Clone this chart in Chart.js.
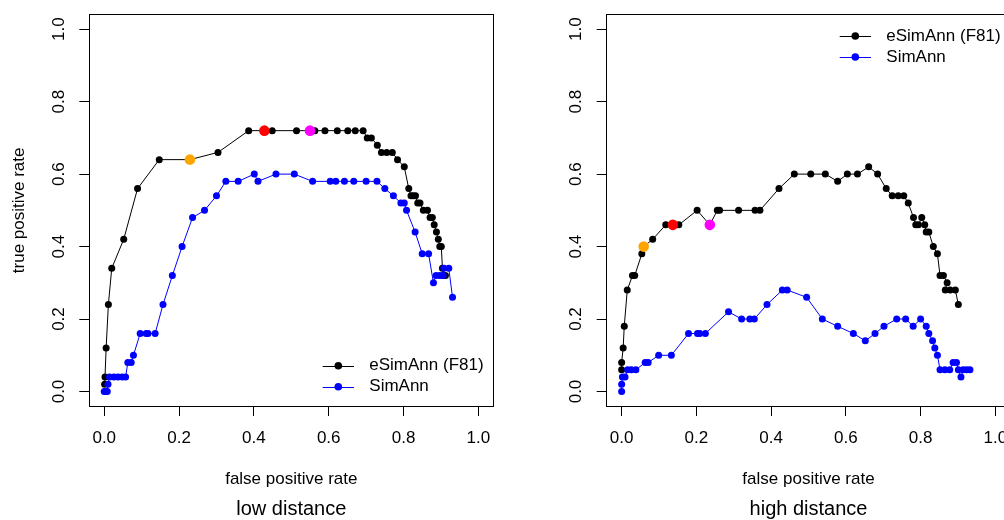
<!DOCTYPE html>
<html>
<head>
<meta charset="utf-8">
<script src="https://cdn.jsdelivr.net/npm/chart.js@4.4.1/dist/chart.umd.min.js"></script>
<style>
html, body { margin: 0; padding: 0; background: #fff; overflow: hidden; width: 1004px; height: 520px; }
#wrapL { position: absolute; left: 0; top: 0; width: 520px; height: 520px; }
#wrapR { position: absolute; left: 502px; top: 0; width: 502px; height: 520px; overflow: hidden; }
canvas { display: block; }
</style>
</head>
<body>
<div id="wrapL"><canvas id="cL" width="520" height="520"></canvas></div>
<div id="wrapR"><canvas id="cR" width="530" height="520"></canvas></div>
<script>
// ---------- data ----------
const SERIES_NAMES = ['eSimAnn (F81)', 'SimAnn'];
const TICK_VALUES = [0, 0.2, 0.4, 0.6, 0.8, 1.0];
const TICK_LABELS = ['0.0', '0.2', '0.4', '0.6', '0.8', '1.0'];
const X_TITLE = 'false positive rate';
const Y_TITLE = 'true positive rate';
const PANEL_TITLES = ['low distance', 'high distance'];

// low distance: eSimAnn (F81)
const lowE_x = [0.001, 0.002, 0.005, 0.011, 0.020, 0.052, 0.089, 0.147, 0.229, 0.304, 0.386, 0.428, 0.449, 0.514, 0.550, 0.563, 0.590, 0.623, 0.651, 0.671, 0.692, 0.703, 0.714, 0.730, 0.741, 0.755, 0.770, 0.784, 0.802, 0.814, 0.820, 0.826, 0.832, 0.838, 0.844, 0.853, 0.864, 0.871, 0.877, 0.882, 0.888, 0.893, 0.897, 0.901, 0.904, 0.907, 0.912];
const lowE_y = [0.02, 0.04, 0.12, 0.24, 0.34, 0.42, 0.56, 0.64, 0.64, 0.66, 0.72, 0.72, 0.72, 0.72, 0.72, 0.72, 0.72, 0.72, 0.72, 0.72, 0.72, 0.70, 0.70, 0.68, 0.66, 0.66, 0.66, 0.64, 0.62, 0.56, 0.54, 0.54, 0.54, 0.52, 0.52, 0.50, 0.50, 0.48, 0.48, 0.46, 0.44, 0.42, 0.40, 0.40, 0.34, 0.32, 0.32];
// low distance: SimAnn
const lowS_x = [0, 0.004, 0.008, 0.010, 0.014, 0.026, 0.037, 0.048, 0.057, 0.063, 0.072, 0.078, 0.096, 0.112, 0.117, 0.136, 0.157, 0.182, 0.208, 0.236, 0.268, 0.300, 0.325, 0.358, 0.401, 0.411, 0.459, 0.508, 0.557, 0.604, 0.619, 0.642, 0.667, 0.700, 0.729, 0.750, 0.773, 0.793, 0.802, 0.808, 0.831, 0.850, 0.867, 0.880, 0.887, 0.897, 0.906, 0.908, 0.921, 0.931];
const lowS_y = [0, 0, 0, 0.02, 0.04, 0.04, 0.04, 0.04, 0.04, 0.08, 0.08, 0.10, 0.16, 0.16, 0.16, 0.16, 0.24, 0.32, 0.40, 0.48, 0.50, 0.54, 0.58, 0.58, 0.60, 0.58, 0.60, 0.60, 0.58, 0.58, 0.58, 0.58, 0.58, 0.58, 0.58, 0.56, 0.54, 0.52, 0.52, 0.50, 0.44, 0.38, 0.38, 0.30, 0.32, 0.32, 0.32, 0.34, 0.34, 0.26];
// low distance: highlighted points
const lowH_x = [0.229, 0.428, 0.550];
const lowH_y = [0.64, 0.72, 0.72];

// high distance: eSimAnn (F81)
const highE_x = [0, 0, 0.004, 0.007, 0.015, 0.029, 0.035, 0.054, 0.059, 0.083, 0.118, 0.137, 0.153, 0.202, 0.236, 0.256, 0.262, 0.313, 0.357, 0.370, 0.421, 0.462, 0.506, 0.545, 0.578, 0.604, 0.631, 0.661, 0.685, 0.708, 0.724, 0.740, 0.755, 0.767, 0.781, 0.787, 0.794, 0.803, 0.811, 0.815, 0.822, 0.834, 0.845, 0.852, 0.861, 0.871, 0.866, 0.879, 0.893, 0.901];
const highE_y = [0.06, 0.08, 0.12, 0.18, 0.28, 0.32, 0.32, 0.38, 0.40, 0.42, 0.46, 0.46, 0.46, 0.50, 0.46, 0.50, 0.50, 0.50, 0.50, 0.50, 0.56, 0.60, 0.60, 0.60, 0.58, 0.60, 0.60, 0.62, 0.60, 0.56, 0.54, 0.54, 0.54, 0.52, 0.48, 0.46, 0.46, 0.48, 0.46, 0.44, 0.44, 0.40, 0.38, 0.32, 0.32, 0.30, 0.28, 0.28, 0.28, 0.24];
// high distance: SimAnn
const highS_x = [0, 0, 0.002, 0.009, 0.016, 0.026, 0.038, 0.063, 0.071, 0.099, 0.133, 0.179, 0.203, 0.209, 0.224, 0.286, 0.321, 0.343, 0.355, 0.389, 0.430, 0.443, 0.495, 0.537, 0.578, 0.620, 0.652, 0.678, 0.702, 0.736, 0.760, 0.780, 0.800, 0.815, 0.822, 0.832, 0.838, 0.845, 0.852, 0.865, 0.878, 0.887, 0.896, 0.901, 0.908, 0.914, 0.923, 0.932];
const highS_y = [0, 0.02, 0.04, 0.04, 0.06, 0.06, 0.06, 0.08, 0.08, 0.10, 0.10, 0.16, 0.16, 0.16, 0.16, 0.22, 0.20, 0.20, 0.20, 0.24, 0.28, 0.28, 0.26, 0.20, 0.18, 0.16, 0.14, 0.16, 0.18, 0.20, 0.20, 0.18, 0.20, 0.18, 0.16, 0.14, 0.12, 0.10, 0.06, 0.06, 0.06, 0.08, 0.08, 0.06, 0.04, 0.06, 0.06, 0.06];
// high distance: highlighted points
const highH_x = [0.059, 0.137, 0.236];
const highH_y = [0.40, 0.46, 0.46];

const HIGHLIGHT_COLORS = ['#FFA500', '#FF0000', '#FF00FF'];
const SERIES_COLORS = ['#000000', '#0000FF'];

// ---------- helpers ----------
const FONT = "'Liberation Sans', Arial, Helvetica, sans-serif";
function pts(xs, ys) { return xs.map((x, i) => ({ x: x, y: ys[i] })); }
function align(p) { return Math.round(p - 0.5) + 0.5; }

const boxPlugin = {
  id: 'rbox',
  afterDraw(chart) {
    const ca = chart.chartArea, ctx = chart.ctx;
    ctx.save();
    ctx.strokeStyle = '#000';
    ctx.lineWidth = 1;
    const l = align(ca.left), r = align(ca.right), t = align(ca.top), b = align(ca.bottom);
    ctx.strokeRect(l, t, r - l, b - t);
    ctx.restore();
  }
};

const rLegendPlugin = {
  id: 'rlegend',
  afterDraw(chart, args, opts) {
    const ca = chart.chartArea, ctx = chart.ctx;
    const order = [2, 1]; // eSimAnn first, SimAnn second
    const ys = opts.anchor === 'top'
      ? [ca.top + 21.3, ca.top + 42.3]
      : [ca.bottom - 40.3, ca.bottom - 19.3];
    ctx.save();
    order.forEach((di, k) => {
      const ds = chart.data.datasets[di];
      const y = ys[k];
      ctx.strokeStyle = ds.borderColor;
      ctx.lineWidth = 1;
      ctx.beginPath();
      ctx.moveTo(ca.right - 170.6, Math.round(y) + 0.5);
      ctx.lineTo(ca.right - 139.3, Math.round(y) + 0.5);
      ctx.stroke();
      ctx.fillStyle = ds.borderColor;
      ctx.beginPath();
      ctx.arc(ca.right - 155, y, 3.8, 0, Math.PI * 2);
      ctx.fill();
      ctx.fillStyle = '#000';
      ctx.font = '17px ' + FONT;
      ctx.textBaseline = 'middle';
      ctx.textAlign = 'left';
      ctx.fillText(ds.label, ca.right - 124, y);
    });
    ctx.restore();
  }
};

function setTicks(scale) { scale.ticks = TICK_VALUES.map(v => ({ value: v })); }

function build(canvasId, p) {
  return new Chart(document.getElementById(canvasId), {
    type: 'scatter',
    data: {
      datasets: [
        {
          label: 'highlight',
          data: pts(p.hx, p.hy),
          showLine: false,
          pointRadius: 5.3,
          pointBorderWidth: 0,
          pointBackgroundColor: HIGHLIGHT_COLORS,
          pointBorderColor: HIGHLIGHT_COLORS,
          order: 0
        },
        {
          label: SERIES_NAMES[1],
          data: pts(p.sx, p.sy),
          showLine: true,
          borderColor: SERIES_COLORS[1],
          backgroundColor: SERIES_COLORS[1],
          borderWidth: 1,
          pointRadius: 3.5,
          pointBorderWidth: 0,
          pointBackgroundColor: SERIES_COLORS[1],
          order: 1
        },
        {
          label: SERIES_NAMES[0],
          data: pts(p.ex, p.ey),
          showLine: true,
          borderColor: SERIES_COLORS[0],
          backgroundColor: SERIES_COLORS[0],
          borderWidth: 1,
          pointRadius: 3.5,
          pointBorderWidth: 0,
          pointBackgroundColor: SERIES_COLORS[0],
          order: 2
        }
      ]
    },
    options: {
      responsive: false,
      animation: false,
      devicePixelRatio: 1,
      events: [],
      layout: { padding: { left: 0, top: 14.7, right: p.padRight, bottom: 0 } },
      plugins: {
        legend: { display: false },
        tooltip: { enabled: false },
        title: { display: false },
        rlegend: { anchor: p.legendAnchor }
      },
      scales: {
        x: {
          type: 'linear', position: 'bottom', min: -0.04, max: 1.04,
          afterBuildTicks: setTicks,
          afterFit: s => { s.height = 82; },
          ticks: {
            autoSkip: false, maxRotation: 0, minRotation: 0, padding: 13.5, color: '#000',
            font: { family: FONT, size: 17, lineHeight: 1 },
            callback: (v, i) => TICK_LABELS[i]
          },
          grid: { display: true, drawOnChartArea: false, drawTicks: true, tickLength: 10, color: '#000', lineWidth: 1 },
          border: { display: true, color: '#000', width: 1 },
          title: { display: true, text: X_TITLE, color: '#000', font: { family: FONT, size: 17, lineHeight: 1 }, padding: { top: 0, bottom: 0.5 } }
        },
        sub: {
          type: 'linear', axis: 'x', position: 'bottom', weight: 1, min: 0, max: 1,
          afterFit: s => { s.height = 32; },
          ticks: { display: false },
          grid: { display: false, drawTicks: false },
          border: { display: false },
          title: { display: true, text: p.subTitle, color: '#000', font: { family: FONT, size: 20, lineHeight: 1 }, padding: { top: 0, bottom: 1 } }
        },
        y: {
          type: 'linear', position: 'left', min: -0.04, max: 1.04,
          afterBuildTicks: setTicks,
          afterFit: s => { s.width = p.yWidth; },
          ticks: {
            minRotation: 90, maxRotation: 90, crossAlign: 'center', padding: 8.3, color: '#000',
            font: { family: FONT, size: 17, lineHeight: 0.5 },
            callback: (v, i) => TICK_LABELS[i]
          },
          grid: { display: true, drawOnChartArea: false, drawTicks: true, tickLength: 10, color: '#000', lineWidth: 1 },
          border: { display: true, color: '#000', width: 1 },
          title: { display: p.showYTitle, text: Y_TITLE, color: '#000', font: { family: FONT, size: 17, lineHeight: 1 }, padding: { top: 10.5, bottom: 0 } }
        }
      }
    },
    plugins: [boxPlugin, rLegendPlugin]
  });
}

build('cL', {
  ex: lowE_x, ey: lowE_y, sx: lowS_x, sy: lowS_y, hx: lowH_x, hy: lowH_y,
  padRight: 520 - 493.3, yWidth: 89.3, showYTitle: true, legendAnchor: 'bottom', subTitle: PANEL_TITLES[0]
});
build('cR', {
  ex: highE_x, ey: highE_y, sx: highS_x, sy: highS_y, hx: highH_x, hy: highH_y,
  padRight: 530 - 508.3, yWidth: 104.7, showYTitle: false, legendAnchor: 'top', subTitle: PANEL_TITLES[1]
});
</script>
</body>
</html>
